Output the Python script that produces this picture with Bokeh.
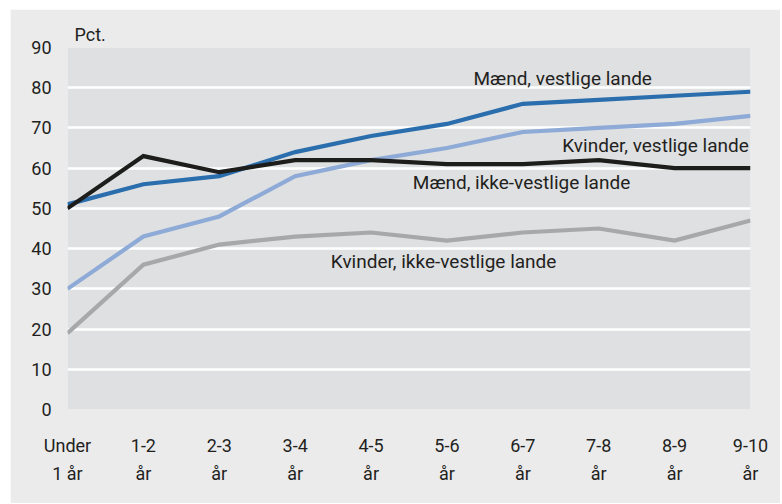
from bokeh.plotting import figure
from bokeh.models import Range1d, FixedTicker, Label
from bokeh.embed import file_html
from bokeh.resources import INLINE

categories = ["Under\n1 år", "1-2\når", "2-3\når", "3-4\når", "4-5\når",
              "5-6\når", "6-7\når", "7-8\når", "8-9\når", "9-10\når"]
maend_vestlige = [51, 56, 58, 64, 68, 71, 76, 77, 78, 79]
kvinder_vestlige = [30, 43, 48, 58, 62, 65, 69, 70, 71, 73]
maend_ikke_vestlige = [50, 63, 59, 62, 62, 61, 61, 62, 60, 60]
kvinder_ikke_vestlige = [19, 36, 41, 43, 44, 42, 44, 45, 42, 47]
y_ticks = [0, 10, 20, 30, 40, 50, 60, 70, 80, 90]

FONT = "Roboto"
TXT = "#231f20"
OUTER = "#ebebec"
INNER = "#dfe0e2"

x = list(range(len(categories)))

p = figure(width=770, height=494, output_backend="svg", toolbar_location=None,
           x_range=Range1d(0, len(categories) - 1), y_range=Range1d(0, 90),
           min_border_left=57, min_border_right=30, min_border_top=38,
           min_border_bottom=94)
p.styles = {"margin-left": "10px", "margin-top": "9px"}
p.background_fill_color = INNER
p.border_fill_color = OUTER
p.outline_line_color = None

p.title.text = "Pct."
p.title.align = "left"
p.title.offset = 7
p.title.standoff = 6
p.title.text_font = FONT
p.title.text_font_size = "18px"
p.title.text_font_style = "normal"
p.title.text_color = TXT

p.xgrid.grid_line_color = None
p.ygrid.grid_line_color = "white"
p.ygrid.grid_line_width = 2.5
p.ygrid.ticker = FixedTicker(ticks=y_ticks)

p.yaxis.ticker = FixedTicker(ticks=y_ticks)
p.xaxis.ticker = FixedTicker(ticks=x)
p.xaxis.major_label_overrides = {i: c for i, c in zip(x, categories)}
for ax in (p.xaxis, p.yaxis):
    ax.axis_line_color = None
    ax.major_tick_line_color = None
    ax.minor_tick_line_color = None
    ax.major_tick_out = 0
    ax.major_tick_in = 0
    ax.minor_tick_out = 0
    ax.major_label_text_font = FONT
    ax.major_label_text_font_size = "18px"
    ax.major_label_text_color = TXT
p.yaxis.major_label_standoff = 16
p.xaxis.major_label_standoff = 25
p.xaxis.major_label_text_line_height = 1.35

series = [
    (kvinder_ikke_vestlige, "#a7a8aa"),
    (kvinder_vestlige, "#8eaad6"),
    (maend_vestlige, "#2a6ead"),
    (maend_ikke_vestlige, "#1d1d1b"),
]
for ys, col in series:
    p.line(x, ys, line_color=col, line_width=4.2, line_join="miter")

labels = [
    ("Mænd, vestlige lande", 5.35, 82.4),
    ("Kvinder, vestlige lande", 6.52, 65.7),
    ("Mænd, ikke-vestlige lande", 4.55, 56.5),
    ("Kvinder, ikke-vestlige lande", 3.47, 36.9),
]
for t, lx, ly in labels:
    p.add_layout(Label(x=lx, y=ly, text=t, text_font=FONT, text_font_size="19px",
                       text_color=TXT, text_baseline="alphabetic", text_align="left"))

open("out.html", "w").write(file_html(p, INLINE))
